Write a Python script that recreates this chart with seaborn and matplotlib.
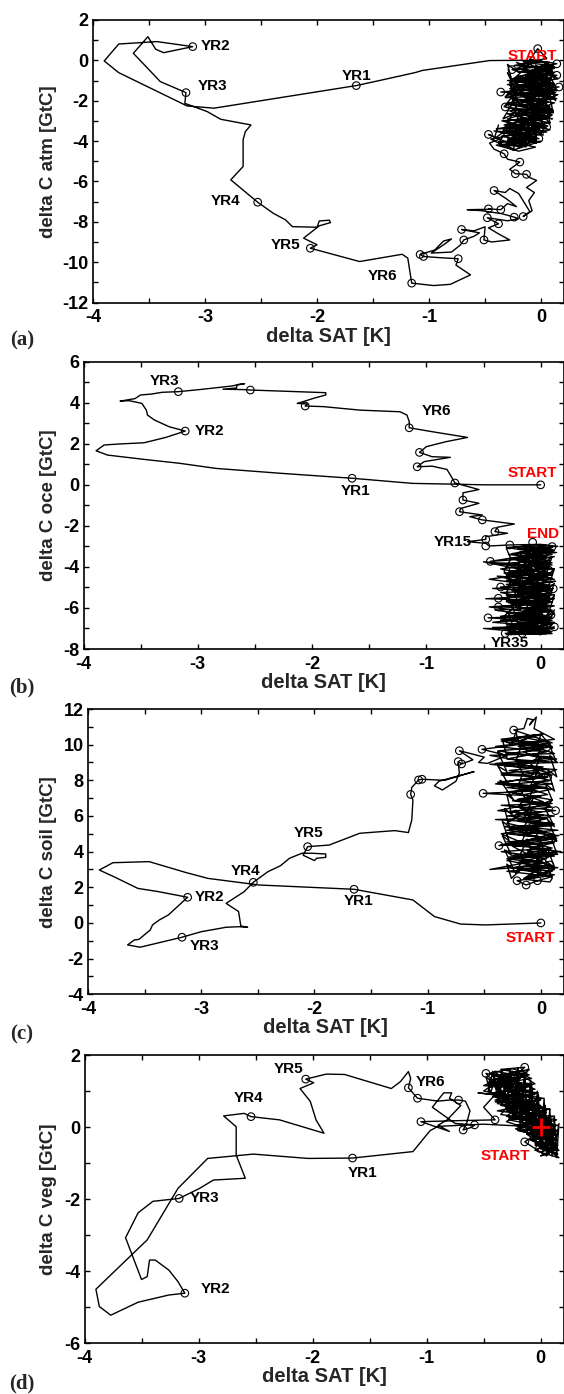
import numpy as np
import matplotlib.pyplot as plt
import seaborn as sns
from matplotlib.ticker import MultipleLocator

sns.set_theme(style='ticks')
plt.rcParams['font.family'] = ['Liberation Sans', 'DejaVu Sans']
plt.rcParams['font.weight'] = 'bold'
plt.rcParams['axes.unicode_minus'] = False

# ---------------- (a) atmosphere ----------------
atm_track = [
    (0.0, 0.0), (-0.2, 0.0), (-0.46, -0.01), (-1.06, -0.5), (-1.12, -0.6), (-1.41, -0.96), (-1.65, -1.25),
    (-2.92, -2.37), (-3.16, -2.26), (-3.77, -0.61), (-3.9, -0.03), (-3.77, 0.81), (-3.43, 0.93), (-3.11, 0.68),
    (-3.37, 0.38), (-3.44, 0.55), (-3.51, 1.17), (-3.64, 0.35), (-3.54, -0.23), (-3.4, -1.05), (-3.17, -1.6),
    (-3.18, -2.13), (-2.98, -2.54), (-2.86, -2.92), (-2.59, -3.2), (-2.64, -3.53), (-2.66, -3.94), (-2.66, -5.26),
    (-2.77, -5.92), (-2.53, -7.03), (-2.39, -7.58), (-2.28, -7.91), (-2.22, -8.24), (-2.0, -8.27), (-1.98, -7.96),
    (-1.89, -7.92), (-1.88, -8.04), (-1.98, -8.2), (-2.12, -8.81), (-2.0, -9.14), (-2.06, -9.31),
    (-1.62, -9.97), (-1.24, -9.61), (-1.19, -9.8), (-1.155, -11.04),
    (-0.96, -11.16), (-0.81, -11.1), (-0.63, -10.63), (-0.76, -10.15), (-0.74, -9.83), (-0.9, -9.78),
    (-1.05, -9.72), (-1.08, -9.62), (-0.95, -9.4), (-0.87, -8.95), (-0.8, -8.85), (-0.86, -9.1), (-0.98, -9.55),
    (-0.8, -9.5), (-0.72, -9.15), (-0.69, -8.9), (-0.6, -8.72), (-0.55, -8.55), (-0.71, -8.38), (-0.6, -8.45),
    (-0.5, -8.25), (-0.51, -8.9), (-0.44, -9.0), (-0.28, -8.9), (-0.38, -8.6), (-0.47, -8.3), (-0.38, -8.1),
    (-0.48, -7.8), (-0.3, -7.95), (-0.2, -7.85), (-0.24, -7.77), (-0.35, -7.6), (-0.53, -7.45), (-0.66, -7.4),
    (-0.45, -7.38), (-0.47, -7.36), (-0.36, -7.4), (-0.3, -7.1), (-0.22, -7.25), (-0.3, -6.9), (-0.42, -6.45),
    (-0.32, -6.55), (-0.28, -6.35), (-0.2, -6.6), (-0.15, -7.05), (-0.1, -7.5), (-0.16, -7.74), (-0.08, -7.45),
    (-0.11, -6.95), (-0.06, -6.55), (-0.13, -6.3), (-0.04, -5.95), (-0.11, -5.79), (-0.13, -5.65), (-0.23, -5.62),
    (-0.28, -5.4), (-0.19, -5.04), (-0.3, -4.9), (-0.33, -4.63), (-0.42, -4.4), (-0.46, -4.1), (-0.37, -3.9),
    (-0.47, -3.67), (-0.2, -4.3), (-0.05, -3.95), (-0.38, -4.05), (-0.02, -3.88), (-0.28, -3.55), (0.05, -3.3),
    (-0.4, -3.4), (-0.1, -3.1), (0.08, -3.45), (-0.3, -2.9), (-0.12, -2.6), (0.1, -2.9), (-0.32, -2.31),
    (-0.05, -2.5), (0.12, -2.1), (-0.25, -1.9), (-0.05, -2.2), (0.15, -1.7), (-0.36, -1.57), (0.0, -1.4),
    (0.16, -1.32), (-0.2, -1.2), (-0.24, -1.07), (0.05, -0.9), (0.14, -0.74), (-0.15, -0.6), (-0.26, -0.46),
    (0.02, -0.3), (0.14, -0.17), (-0.1, 0.05), (-0.03, 0.58), (0.05, 0.1), (-0.2, -0.2), (0.1, -0.5),
    (-0.22, -0.8), (0.08, -1.1), (-0.28, -1.4), (0.12, -1.6), (-0.18, -1.75), (0.02, -2.0), (-0.3, -2.1),
    (0.1, -2.4), (-0.22, -2.7), (0.05, -2.8), (-0.35, -3.0), (-0.1, -3.35), (0.02, -3.7), (-0.42, -3.5),
    (-0.15, -3.8), (-0.3, -4.2), (0.0, -4.0), (-0.25, -4.45), (-0.45, -3.9), (-0.1, -3.55), (-0.33, -3.2),
    (0.08, -3.1), (-0.15, -2.85), (-0.28, -2.5), (0.06, -2.3), (-0.12, -2.05), (0.14, -1.9), (-0.22, -1.6),
    (0.04, -1.25), (-0.3, -1.0), (0.1, -0.95), (-0.12, -0.7), (0.12, -0.4), (-0.24, -0.25), (0.0, -0.05),
    (0.12, -0.35), (-0.18, -0.55), (0.06, -0.8), (-0.3, -1.2), (0.14, -1.45), (-0.1, -1.55), (-0.32, -1.85),
    (0.08, -1.75), (-0.1, -2.3), (0.1, -2.6), (-0.3, -2.65), (-0.05, -3.0), (-0.2, -3.3), (0.05, -3.55),
    (-0.35, -3.75), (-0.1, -4.1), (-0.05, -3.6), (-0.25, -3.1), (0.1, -2.7), (-0.2, -2.2), (0.12, -1.3),
    (-0.15, -1.0), (0.08, -0.6), (-0.05, -0.25), (0.15, -0.9), (-0.2, -1.35), (0.05, -1.7), (-0.08, -1.3),
    (-0.02, -1.1), (-0.18, -0.95), (0.03, -0.75), (-0.12, -0.55), (0.1, -0.25), (-0.08, -0.15), (-0.22, -0.4),
    (0.0, -0.6), (-0.14, -0.85), (0.08, -1.05), (-0.26, -1.25), (-0.04, -1.45), (0.13, -1.6), (-0.15, -1.85),
    (0.06, -2.05), (-0.2, -2.25), (0.03, -2.45), (-0.14, -2.6), (0.09, -2.75), (-0.25, -2.95), (-0.02, -3.15),
    (-0.3, -3.3), (-0.06, -3.5), (-0.27, -3.65), (-0.04, -3.8), (-0.22, -4.0), (-0.36, -4.25), (-0.12, -4.2),
    (-0.28, -3.95), (-0.08, -3.75), (-0.36, -3.55), (-0.15, -3.4), (0.02, -3.2), (-0.2, -3.05), (0.06, -2.9),
    (-0.17, -2.7), (0.11, -2.5), (-0.12, -2.35), (-0.28, -2.2), (0.05, -2.15), (-0.08, -1.95), (0.1, -1.8),
    (-0.3, -1.7), (-0.06, -1.6), (0.14, -1.5), (-0.12, -1.35), (0.09, -1.2), (-0.2, -1.05), (0.02, -0.95),
    (-0.15, -0.75), (0.12, -0.6), (-0.06, -0.4), (0.08, -0.1), (-0.16, -0.05), (-0.04, -0.35), (0.1, -0.7),
    (-0.24, -0.9), (0.0, -1.2), (-0.1, -1.7), (0.08, -2.3), (-0.2, -2.55), (0.0, -2.65), (-0.1, -2.95),
    (0.06, -3.25), (-0.24, -3.45), (-0.1, -3.7), (-0.3, -3.9), (-0.15, -4.05), (-0.4, -4.2), (-0.2, -4.5),
    (-0.05, -4.3), (-0.3, -4.0), (-0.12, -3.3), (0.04, -2.6), (-0.16, -2.0), (0.12, -1.15), (-0.1, -0.8),
    (0.04, -0.45), (-0.2, -0.6),
    (-0.3, -0.2), (-0.26, -1.0), (-0.3, -0.6), (-0.22, -1.6), (-0.28, -1.2), (-0.2, -2.1), (-0.27, -1.8),
    (-0.18, -2.8), (-0.25, -2.4), (-0.16, -3.4), (-0.3, -3.0), (-0.2, -4.0), (-0.12, -3.6), (-0.14, -4.3),
    (-0.08, -3.8), (-0.12, -3.1), (-0.02, -3.5), (-0.1, -2.6), (0.0, -3.0), (-0.08, -2.2), (0.04, -2.4),
    (-0.06, -1.5), (0.06, -1.9), (-0.04, -0.9), (0.08, -1.3), (-0.02, -0.3), (0.1, -0.6), (0.04, -0.1),
    (0.12, -0.9), (0.06, -0.5), (0.14, -1.5), (0.08, -1.1), (0.13, -2.0), (0.07, -1.7), (0.11, -2.6),
    (0.04, -2.2), (0.08, -3.1), (0.0, -2.7), (0.02, -3.6), (-0.06, -3.2), (-0.04, -4.1), (-0.16, -3.9),
    (-0.22, -3.3), (-0.35, -3.6), (-0.26, -2.7), (-0.34, -2.9), (-0.24, -2.0), (-0.33, -2.3), (-0.2, -1.4),
    (-0.32, -1.8), (-0.16, -0.8), (-0.28, -1.1), (-0.12, -0.3), (-0.22, -0.1), (-0.06, -0.7), (-0.14, -0.5),
    (0.0, -1.2), (-0.1, -1.0), (0.02, -1.8), (-0.1, -1.4), (0.0, -2.3), (-0.12, -2.0), (-0.02, -2.8),
    (-0.14, -2.5), (-0.06, -3.3), (-0.18, -3.0), (-0.1, -3.9), (-0.26, -3.8), (-0.24, -4.4), (-0.38, -4.1),
    (-0.3, -3.4), (-0.42, -3.9), (-0.38, -3.2),
]
atm_years = [
    (-1.65, -1.25), (-3.11, 0.68), (-3.17, -1.6), (-2.53, -7.03), (-2.06, -9.31), (-1.155, -11.04),
    (-0.74, -9.83), (-1.05, -9.72), (-1.08, -9.62), (-0.69, -8.9), (-0.71, -8.38), (-0.51, -8.9),
    (-0.38, -8.1), (-0.48, -7.8), (-0.24, -7.77), (-0.47, -7.36), (-0.36, -7.4), (-0.42, -6.45),
    (-0.16, -7.74), (-0.13, -5.65), (-0.23, -5.62), (-0.19, -5.04), (-0.33, -4.63), (-0.47, -3.67),
    (-0.02, -3.88), (0.05, -3.3), (-0.32, -2.31), (-0.36, -1.57), (0.16, -1.32), (-0.24, -1.07),
    (0.14, -0.74), (-0.26, -0.46), (0.14, -0.17), (-0.03, 0.58),
]
atm_notes = [
    ("YR1", -1.65, -0.77), ("YR2", -2.91, 0.73), ("YR3", -2.93, -1.25), ("YR4", -2.82, -6.97),
    ("YR5", -2.28, -9.14), ("YR6", -1.42, -10.71), ("START", -0.08, 0.22),
]

# ---------------- (b) ocean ----------------
oce_track = [
    (0.0, 0.0), (-0.5, 0.0), (-0.73, 0.03), (-1.12, 0.07), (-1.65, 0.32), (-2.27, 0.56), (-2.84, 0.8),
    (-3.16, 1.05), (-3.47, 1.24), (-3.79, 1.45), (-3.89, 1.66), (-3.82, 1.94), (-3.69, 1.99), (-3.47, 2.05),
    (-3.28, 2.31), (-3.11, 2.62), (-3.25, 2.83), (-3.38, 3.16), (-3.44, 3.4), (-3.45, 3.64), (-3.49, 3.97),
    (-3.6, 4.1), (-3.68, 4.08), (-3.55, 4.2), (-3.5, 4.38), (-3.41, 4.42), (-3.31, 4.51), (-3.17, 4.54),
    (-2.97, 4.65), (-2.71, 4.81), (-2.59, 4.93), (-2.66, 4.88), (-2.66, 4.72), (-2.78, 4.66), (-2.6, 4.64),
    (-2.54, 4.62), (-1.88, 4.49), (-1.88, 4.38), (-1.99, 4.21), (-2.08, 4.05), (-2.13, 3.97), (-2.04, 3.94),
    (-2.06, 3.84), (-1.9, 3.81), (-1.58, 3.64), (-1.23, 3.56), (-1.17, 3.4), (-1.15, 3.08), (-1.15, 2.78),
    (-0.95, 2.59), (-0.64, 2.31), (-0.83, 2.1), (-1.0, 1.86), (-1.06, 1.58), (-0.95, 1.37), (-0.79, 1.34),
    (-1.02, 1.13), (-1.08, 0.88), (-0.95, 0.91), (-0.82, 0.75), (-0.79, 0.48), (-0.75, 0.09), (-0.54, -0.23),
    (-0.68, -0.39), (-0.68, -0.74), (-0.54, -0.9), (-0.7, -1.15), (-0.71, -1.31), (-0.51, -1.47),
    (-0.62, -1.55), (-0.51, -1.71), (-0.23, -1.91), (-0.38, -2.07), (-0.4, -2.28), (-0.29, -2.36),
    (-0.48, -2.53), (-0.48, -2.66), (-0.64, -2.77), (-0.48, -2.85), (-0.45, -2.98), (-0.27, -2.93),
    (0.0, -2.9), (0.15, -3.0), (-0.2, -3.1), (0.1, -3.25), (-0.44, -3.73), (-0.1, -3.6), (0.12, -3.5),
    (-0.3, -3.9), (0.05, -4.0), (-0.5, -3.75), (-0.15, -4.15), (0.1, -4.3), (-0.25, -4.5), (0.02, -4.6),
    (-0.38, -4.45), (-0.1, -4.8), (0.13, -4.7), (-0.35, -4.98), (0.0, -5.1), (0.11, -5.06), (-0.2, -5.3),
    (0.05, -5.4), (-0.48, -5.55), (-0.15, -5.6), (0.1, -5.7), (-0.37, -5.95), (-0.05, -6.0), (0.08, -6.2),
    (-0.3, -6.25), (0.0, -6.4), (-0.46, -6.48), (-0.1, -6.6), (0.12, -6.7), (-0.25, -6.85), (0.05, -7.0),
    (-0.5, -7.0), (-0.1, -7.2), (0.12, -6.92), (-0.31, -7.24), (0.05, -7.25), (-0.2, -7.05), (0.08, -6.8),
    (-0.35, -6.6), (0.1, -6.45), (-0.15, -6.3), (-0.4, -6.1), (0.06, -6.0), (-0.2, -5.8), (0.12, -5.55),
    (-0.3, -5.4), (0.0, -5.2), (-0.42, -5.05), (0.1, -4.9), (-0.18, -4.7), (0.05, -4.45), (-0.32, -4.3),
    (0.12, -4.1), (-0.1, -3.95), (-0.4, -3.85), (0.08, -3.7), (-0.2, -3.45), (0.14, -3.3), (-0.1, -3.15),
    (0.05, -2.95), (-0.3, -3.05), (0.1, -3.4), (-0.22, -3.65), (0.02, -3.85), (-0.35, -4.1), (0.1, -4.55),
    (-0.12, -4.35), (-0.45, -4.6), (0.08, -5.0), (-0.25, -5.15), (0.05, -5.35), (-0.3, -5.7), (0.12, -5.9),
    (-0.15, -6.15), (0.0, -6.3), (-0.35, -6.4), (0.1, -6.6), (-0.2, -6.75), (0.02, -6.9), (-0.42, -6.95),
    (0.1, -7.15), (-0.15, -7.3), (0.0, -7.0), (-0.28, -6.9), (0.06, -6.55), (-0.1, -6.2), (-0.45, -5.95),
    (0.08, -5.75), (-0.1, -5.5), (-0.35, -5.25), (0.1, -5.15), (-0.05, -4.85), (-0.3, -4.65), (0.1, -4.4),
    (-0.15, -4.05), (0.02, -3.75), (-0.25, -3.35), (0.1, -3.05),
    (-0.2, -3.3), (0.05, -3.45), (-0.25, -3.6), (0.1, -3.8), (-0.15, -3.9), (0.08, -4.05), (-0.28, -4.2),
    (0.02, -4.35), (-0.12, -4.55), (0.12, -4.6), (-0.25, -4.75), (0.05, -4.9), (-0.2, -5.05), (0.1, -5.25),
    (-0.15, -5.45), (0.06, -5.6), (-0.28, -5.75), (0.0, -5.85), (-0.12, -6.05), (0.1, -6.1), (-0.22, -6.35),
    (0.04, -6.5), (-0.18, -6.6), (0.12, -6.75), (-0.1, -6.95), (0.08, -7.1), (-0.25, -7.15), (0.0, -7.3),
    (-0.1, -7.1), (0.12, -7.0), (-0.3, -6.8), (-0.05, -6.7), (0.08, -6.5), (-0.25, -6.45), (0.02, -6.2),
    (-0.16, -6.0), (0.1, -5.9), (-0.3, -5.65), (-0.05, -5.5), (0.12, -5.35), (-0.22, -5.2), (0.0, -5.0),
    (-0.3, -4.85), (0.1, -4.75), (-0.1, -4.5), (0.06, -4.3), (-0.22, -4.05), (0.1, -3.9), (-0.12, -3.75),
    (0.05, -3.55), (-0.28, -3.4), (0.1, -3.15), (-0.15, -3.0), (0.12, -3.2), (-0.05, -3.45), (-0.2, -3.7),
    (0.0, -4.1), (-0.3, -4.4), (-0.05, -4.65), (0.1, -5.1), (-0.12, -5.35), (-0.35, -5.55), (0.0, -5.75),
    (0.12, -6.3), (-0.18, -6.55), (-0.42, -6.7), (-0.05, -6.85), (0.1, -7.25), (-0.3, -7.3), (-0.08, -7.0),
    (0.05, -6.4), (-0.2, -5.9), (0.08, -5.45), (-0.15, -4.95), (0.04, -4.2), (-0.18, -3.55), (0.08, -3.05),
    (0.08, -3.0), (0.02, -3.9), (0.1, -3.5), (0.04, -4.5), (0.12, -4.1), (0.06, -5.1), (0.12, -4.8),
    (0.05, -5.8), (0.12, -5.4), (0.06, -6.4), (0.12, -6.1), (0.04, -7.1), (0.1, -6.8), (0.0, -7.3),
    (-0.04, -6.5), (0.02, -6.8), (-0.06, -5.9), (0.0, -6.2), (-0.08, -5.2), (-0.02, -5.6), (-0.1, -4.6),
    (-0.04, -4.9), (-0.12, -3.9), (-0.06, -4.3), (-0.14, -3.1), (-0.08, -3.4), (-0.18, -3.3), (-0.12, -4.1),
    (-0.2, -3.8), (-0.15, -4.8), (-0.22, -4.4), (-0.16, -5.4), (-0.24, -5.0), (-0.18, -6.1), (-0.26, -5.7),
    (-0.2, -6.7), (-0.28, -6.3), (-0.22, -7.2), (-0.3, -6.9), (-0.26, -7.3), (-0.32, -6.4), (-0.24, -6.0),
    (-0.3, -5.3), (-0.26, -4.7), (-0.32, -4.2), (-0.26, -3.6), (-0.3, -3.1), (-0.1, -2.95), (0.0, -3.4),
    (-0.05, -4.0), (0.02, -4.7), (-0.04, -5.4), (0.04, -6.0), (-0.02, -6.6), (0.06, -7.2), (-0.1, -7.0),
    (-0.14, -6.3), (-0.1, -5.6), (-0.14, -4.9), (-0.08, -4.2), (-0.12, -3.5), (0.06, -3.2), (0.0, -3.2),
]
oce_years = [
    (0.0, 0.0), (-1.65, 0.32), (-3.11, 2.62), (-3.17, 4.54), (-2.54, 4.62), (-2.06, 3.84), (-1.15, 2.78),
    (-1.06, 1.58), (-1.08, 0.88), (-0.75, 0.09), (-0.68, -0.74), (-0.71, -1.31), (-0.51, -1.71),
    (-0.4, -2.28), (-0.48, -2.66), (-0.48, -2.98), (-0.27, -2.93), (-0.44, -3.73), (-0.35, -4.98),
    (0.11, -5.06), (-0.37, -5.95), (-0.46, -6.48), (0.12, -6.92), (-0.31, -7.24), (-0.16, -7.24),
    (0.04, -7.07), (0.09, -6.34), (-0.37, -5.53), (-0.24, -4.15), (-0.23, -4.64), (0.07, -4.15),
    (0.1, -3.01), (-0.07, -2.8),
]
oce_notes = [
    ("YR3", -3.29, 5.07), ("YR2", -2.9, 2.64), ("YR1", -1.62, -0.3), ("YR6", -0.91, 3.61),
    ("START", -0.07, 0.59), ("END", 0.02, -2.41), ("YR15", -0.77, -2.77), ("YR35", -0.27, -7.72),
]

# ---------------- (c) soil ----------------
soil_track = [
    (0.0, 0.0), (-0.49, -0.11), (-0.71, -0.06), (-0.94, 0.36), (-1.13, 1.29), (-1.65, 1.89), (-2.49, 2.13),
    (-2.94, 2.5), (-3.13, 2.82), (-3.46, 3.44), (-3.78, 3.38), (-3.9, 2.97), (-3.76, 2.56), (-3.56, 1.94),
    (-3.38, 1.76), (-3.12, 1.44), (-3.21, 0.92), (-3.29, 0.45), (-3.37, 0.17), (-3.43, -0.11), (-3.45, -0.39),
    (-3.55, -0.92), (-3.59, -0.95), (-3.65, -1.23), (-3.54, -1.36), (-3.17, -0.8), (-3.0, -0.49),
    (-2.78, -0.24), (-2.67, -0.21), (-2.59, -0.24), (-2.65, -0.17), (-2.67, 0.64), (-2.78, 1.1), (-2.62, 1.76),
    (-2.54, 2.28), (-2.41, 2.88), (-2.3, 3.21), (-2.22, 3.63), (-2.11, 3.91), (-2.02, 3.91), (-1.9, 3.87),
    (-1.9, 3.68), (-1.98, 3.63), (-2.0, 3.5), (-2.1, 3.8), (-2.06, 4.28), (-1.87, 4.37), (-1.6, 5.03),
    (-1.29, 5.18), (-1.17, 5.07), (-1.14, 5.78), (-1.13, 6.9), (-1.15, 7.21),
    (-1.14, 7.6), (-1.08, 8.02), (-1.05, 8.06), (-0.85, 8.0), (-0.59, 8.49), (-0.9, 7.95), (-0.94, 7.69),
    (-0.87, 7.46), (-0.8, 7.74), (-0.75, 7.95), (-0.72, 8.4), (-0.73, 9.05), (-0.7, 8.92), (-0.6, 9.15),
    (-0.72, 9.66), (-0.62, 9.5), (-0.5, 9.3), (-0.55, 9.0), (-0.47, 8.95),
    (-0.3, 9.4), (-0.52, 9.74), (-0.2, 10.0), (0.05, 9.85), (-0.35, 10.2), (-0.15, 10.4), (0.1, 10.1),
    (-0.24, 10.82), (-0.15, 10.9), (-0.12, 11.47), (-0.07, 11.4), (-0.1, 11.1), (-0.04, 11.55), (-0.06, 10.9),
    (0.12, 10.3), (-0.4, 9.9), (0.05, 9.6), (-0.3, 9.2), (0.15, 9.0), (-0.45, 8.9), (-0.1, 8.7), (0.08, 8.4),
    (-0.35, 8.3), (0.06, 8.17), (-0.2, 8.0), (0.1, 7.8), (-0.3, 7.6), (-0.05, 7.4), (-0.51, 7.27), (0.0, 7.1),
    (-0.2, 6.9), (0.1, 6.7), (-0.35, 6.6), (0.0, 6.4), (0.13, 6.3), (-0.22, 6.11), (0.05, 5.9), (-0.4, 5.8),
    (0.1, 5.6), (-0.15, 5.4), (0.15, 5.2), (-0.3, 5.0), (0.0, 4.8), (-0.37, 4.34), (0.12, 4.5), (-0.1, 4.2),
    (0.18, 4.0), (-0.25, 3.8), (0.05, 3.6), (-0.45, 3.0), (0.08, 3.25), (-0.1, 2.9), (0.12, 2.7),
    (-0.21, 2.37), (-0.13, 2.13), (-0.03, 2.37), (0.1, 2.6), (-0.3, 2.9), (0.15, 3.1), (-0.2, 3.4),
    (0.0, 3.7), (-0.35, 4.0), (0.1, 4.2), (-0.15, 4.6), (0.16, 4.9), (-0.3, 5.2), (0.05, 5.5), (-0.2, 5.7),
    (0.12, 6.0), (-0.38, 6.3), (0.02, 6.8), (-0.15, 7.2), (0.1, 7.5), (-0.4, 7.8), (-0.05, 8.2), (0.14, 8.6),
    (-0.3, 8.8), (0.0, 9.2), (-0.15, 9.6), (0.1, 9.9), (-0.35, 10.3), (0.02, 10.6), (-0.2, 10.2), (0.12, 9.5),
    (-0.45, 9.4), (-0.1, 9.0), (0.05, 8.0), (-0.25, 7.3), (0.1, 6.9), (-0.1, 6.4), (-0.3, 5.6), (0.1, 5.0),
    (-0.2, 4.5), (0.05, 4.0), (-0.3, 3.5), (0.12, 3.0), (-0.15, 2.5), (0.05, 3.3), (-0.25, 4.3), (0.14, 4.6),
    (-0.05, 5.3), (-0.35, 5.0), (0.1, 3.8), (-0.1, 3.2), (0.0, 2.8),
    (-0.1, 2.6), (0.1, 2.9), (-0.25, 3.1), (0.02, 3.35), (-0.3, 3.6), (0.12, 3.75), (-0.12, 3.95),
    (0.08, 4.15), (-0.35, 4.4), (-0.05, 4.55), (0.14, 4.75), (-0.2, 4.95), (0.04, 5.1), (-0.28, 5.3),
    (0.1, 5.45), (-0.12, 5.65), (0.06, 5.85), (-0.3, 6.0), (0.0, 6.2), (-0.18, 6.45), (0.08, 6.6),
    (-0.25, 6.85), (-0.02, 7.05), (-0.3, 7.35), (0.05, 7.6), (-0.38, 7.9), (-0.05, 8.1), (0.1, 8.3),
    (-0.28, 8.55), (0.02, 8.75), (-0.4, 8.95), (-0.08, 9.1), (0.1, 9.3), (-0.3, 9.5), (0.0, 9.7),
    (-0.2, 9.9), (0.08, 10.05), (-0.3, 10.3), (-0.05, 10.55), (-0.18, 10.2), (0.06, 9.9), (-0.38, 9.65),
    (-0.1, 9.4), (0.14, 9.2), (-0.2, 8.95), (0.05, 8.6), (-0.35, 8.4), (-0.1, 8.25), (0.08, 8.0),
    (-0.3, 7.75), (-0.08, 7.5), (0.06, 7.2), (-0.2, 6.95), (0.1, 6.5), (-0.28, 6.25), (0.02, 6.05),
    (-0.2, 5.8), (0.12, 5.55), (-0.32, 5.4), (0.0, 5.2), (-0.15, 5.0), (0.1, 4.7), (-0.3, 4.55),
    (0.02, 4.35), (-0.12, 4.05), (0.15, 3.85), (-0.28, 3.7), (-0.02, 3.45), (0.1, 3.2), (-0.2, 3.0),
    (0.05, 2.75), (-0.15, 2.45), (0.08, 2.3),
    (0.1, 2.5), (0.04, 3.5), (0.12, 3.1), (0.06, 4.2), (0.14, 3.9), (0.08, 5.0), (0.14, 4.6), (0.06, 5.8),
    (0.12, 5.4), (0.04, 6.4), (0.1, 6.9), (0.04, 7.8), (0.12, 7.4), (0.06, 8.6), (0.14, 8.2), (0.08, 9.4),
    (0.14, 9.0), (0.06, 10.2), (0.1, 9.8), (0.0, 10.6), (-0.04, 9.7), (0.02, 10.0), (-0.06, 9.0), (0.0, 9.3),
    (-0.08, 8.3), (-0.02, 8.6), (-0.1, 7.6), (-0.04, 7.9), (-0.12, 6.8), (-0.06, 7.1), (-0.14, 6.0),
    (-0.08, 6.3), (-0.16, 5.2), (-0.1, 5.5), (-0.18, 4.4), (-0.12, 4.7), (-0.2, 3.6), (-0.14, 3.9),
    (-0.22, 2.8), (-0.16, 3.1), (-0.26, 2.5), (-0.3, 3.3), (-0.24, 3.0), (-0.32, 4.1), (-0.26, 3.8),
    (-0.34, 4.9), (-0.28, 4.6), (-0.34, 5.7), (-0.28, 5.4), (-0.32, 6.4), (-0.26, 6.1), (-0.3, 7.2),
    (-0.24, 6.9), (-0.36, 8.0), (-0.28, 7.7), (-0.38, 8.8), (-0.3, 8.5), (-0.38, 9.6), (-0.3, 9.3),
    (-0.34, 10.3), (-0.26, 10.0), (-0.22, 10.7), (-0.18, 9.8), (-0.22, 9.1), (-0.16, 8.4), (-0.2, 7.7),
    (-0.14, 7.0), (-0.2, 6.5), (0.0, 5.9), (-0.04, 5.0), (0.02, 4.3), (-0.04, 3.4), (0.02, 2.6),
]
soil_years = [
    (0.0, 0.0), (-1.65, 1.89), (-3.12, 1.44), (-3.17, -0.8), (-2.54, 2.28), (-2.06, 4.28), (-1.15, 7.21),
    (-1.08, 8.02), (-1.05, 8.06), (-0.73, 9.05), (-0.7, 8.92), (-0.72, 9.66), (-0.52, 9.74), (-0.24, 10.82),
    (0.05, 9.85), (0.06, 8.17), (-0.51, 7.27), (-0.22, 6.11), (0.13, 6.3), (-0.37, 4.34), (-0.13, 2.13),
    (-0.03, 2.37), (-0.21, 2.37), (0.08, 3.25),
]
soil_notes = [
    ("YR5", -2.05, 5.07), ("YR4", -2.61, 2.92), ("YR2", -2.93, 1.44), ("YR1", -1.61, 1.25),
    ("YR3", -2.97, -1.29), ("START", -0.09, -0.82),
]

# ---------------- (d) vegetation ----------------
veg_track = [
    (0.0, 0.0), (-0.5, 0.08), (-0.9, 0.02), (-0.97, -0.1), (-1.12, -0.68), (-1.65, -0.86), (-2.04, -0.87),
    (-2.52, -0.75), (-2.92, -0.87), (-3.18, -1.7), (-3.45, -3.13), (-3.9, -4.5), (-3.87, -4.98), (-3.77, -5.22),
    (-3.53, -4.86), (-3.26, -4.66), (-3.12, -4.61), (-3.18, -4.29), (-3.26, -3.97), (-3.38, -3.69),
    (-3.43, -3.69), (-3.45, -4.15), (-3.5, -4.23), (-3.64, -3.07), (-3.53, -2.38), (-3.4, -2.06), (-3.17, -1.98),
    (-2.99, -1.7), (-2.87, -1.47), (-2.59, -1.42), (-2.67, -0.78), (-2.67, 0.01), (-2.78, 0.31), (-2.6, 0.38),
    (-2.54, 0.29), (-2.29, 0.2), (-1.9, -0.17), (-1.97, 0.2), (-2.02, 0.71), (-2.11, 1.07), (-1.99, 1.23),
    (-2.06, 1.33), (-1.88, 1.47), (-1.72, 1.46), (-1.31, 1.07), (-1.23, 1.26), (-1.16, 1.54), (-1.14, 1.35),
    (-1.16, 1.09),
    (-1.08, 0.8), (-0.9, 0.72), (-0.8, 0.75), (-0.72, 0.75), (-0.66, 0.72), (-0.62, 0.45), (-0.65, 0.1),
    (-0.68, -0.08), (-0.6, 0.0), (-0.58, 0.06), (-0.75, 0.1), (-0.95, 0.55), (-0.85, 0.95), (-0.78, 0.95),
    (-0.8, 0.8), (-0.7, 0.6), (-0.82, 0.2), (-0.9, 0.05), (-0.8, -0.12), (-1.05, 0.15), (-0.7, 0.18),
    (-0.4, 0.2), (-0.5, 0.55), (-0.4, 0.9), (-0.55, 0.95), (-0.3, 0.85),
    (-0.48, 1.49), (-0.2, 1.3), (-0.45, 1.1), (-0.1, 1.45), (-0.35, 1.6), (-0.14, 1.66), (-0.3, 1.2),
    (-0.05, 0.9), (-0.42, 0.85), (-0.15, 0.6), (-0.38, 0.45), (0.0, 0.3), (-0.28, 0.2), (0.05, 0.0),
    (-0.2, -0.1), (0.12, -0.3), (-0.1, -0.35), (0.1, -0.6), (-0.01, -0.59), (0.15, -0.75), (-0.05, -0.45),
    (0.14, -0.2), (-0.22, 0.05), (0.08, 0.25), (-0.3, 0.5), (-0.05, 0.65), (-0.4, 0.75), (-0.1, 1.0),
    (-0.45, 1.3), (-0.2, 1.5), (-0.05, 1.2), (-0.35, 0.95), (0.02, 0.55), (-0.25, 0.35), (0.1, 0.1),
    (-0.14, -0.41), (0.05, -0.8), (0.15, -0.5), (-0.08, -0.2), (0.1, 0.05), (-0.3, 0.3), (-0.1, 0.75),
    (-0.5, 1.0), (-0.25, 1.55), (-0.08, 1.35), (-0.38, 1.2), (-0.15, 0.85), (-0.32, 0.6), (0.05, 0.4),
    (-0.18, 0.15), (0.15, -0.1), (-0.05, -0.3), (0.12, -0.55), (0.0, -0.7), (0.16, -0.85), (-0.12, -0.2),
    (0.08, 0.15), (-0.35, 0.35), (-0.2, 0.9), (-0.42, 1.4), (-0.1, 1.6), (-0.3, 1.0), (0.0, 0.75),
    (-0.28, 0.55), (-0.02, 0.2), (-0.22, -0.05), (0.1, -0.4), (-0.05, -0.65), (0.12, -0.35), (-0.15, 0.1),
    (0.05, 0.5), (-0.38, 0.65), (-0.12, 1.15), (-0.46, 1.25), (-0.25, 0.75), (-0.05, 0.45), (0.1, -0.15),
    (-0.1, 0.0), (0.14, 0.2), (-0.2, 0.4), (0.02, -0.2),
    (-0.4, 1.55), (-0.15, 1.4), (-0.38, 1.3), (-0.08, 1.2), (-0.32, 1.05), (-0.02, 0.95), (-0.35, 0.8),
    (-0.05, 0.7), (-0.3, 0.55), (0.05, 0.45), (-0.25, 0.3), (0.08, 0.2), (-0.18, 0.05), (0.12, -0.05),
    (-0.12, -0.2), (0.14, -0.35), (-0.05, -0.5), (0.12, -0.65), (0.0, -0.8), (0.15, -0.6), (-0.08, -0.35),
    (0.1, -0.2), (-0.2, -0.05), (0.06, 0.1), (-0.28, 0.25), (0.02, 0.35), (-0.3, 0.45), (0.0, 0.6),
    (-0.4, 0.7), (-0.1, 0.85), (-0.42, 0.95), (-0.12, 1.1), (-0.45, 1.2), (-0.2, 1.35), (-0.44, 1.5),
    (-0.25, 1.62), (-0.12, 1.5), (-0.35, 1.4), (-0.05, 1.05), (-0.25, 0.95), (0.02, 0.8), (-0.2, 0.65),
    (0.08, 0.5), (-0.15, 0.35), (0.12, 0.3), (-0.1, 0.15), (0.15, 0.05), (-0.05, -0.1), (0.13, -0.45),
    (0.02, -0.3), (0.16, -0.65), (0.05, -0.55), (-0.1, -0.05), (-0.3, 0.15), (-0.15, 0.5), (-0.35, 0.6),
    (-0.25, 1.1), (-0.5, 1.15), (-0.3, 1.45), (-0.1, 0.4),
    (-0.46, 1.0), (-0.42, 1.55), (-0.38, 0.85), (-0.34, 1.6), (-0.3, 0.5), (-0.27, 1.6), (-0.24, 0.3),
    (-0.2, 1.65), (-0.18, 0.1), (-0.14, 1.5), (-0.12, -0.2), (-0.09, 1.3), (-0.06, -0.4), (-0.03, 1.0),
    (0.0, -0.6), (0.03, 0.8), (0.05, -0.7), (0.08, 0.5), (0.1, -0.8), (0.12, 0.3), (0.14, -0.85),
    (0.16, 0.1), (0.12, -0.6), (0.09, 0.2), (0.06, -0.75), (0.04, 0.6), (0.0, -0.5), (-0.02, 0.9),
    (-0.06, -0.3), (-0.08, 1.2), (-0.12, 0.0), (-0.14, 1.4), (-0.17, 0.2), (-0.2, 1.55), (-0.23, 0.4),
    (-0.26, 1.5), (-0.3, 0.55), (-0.33, 1.45), (-0.37, 0.7), (-0.4, 1.3), (-0.44, 0.95), (-0.48, 1.4),
    (0.0, 0.0),
]
veg_years = [
    (-1.65, -0.86), (-3.12, -4.61), (-3.17, -1.98), (-2.54, 0.29), (-2.06, 1.33), (-1.16, 1.09),
    (-1.08, 0.8), (-1.05, 0.15), (-0.72, 0.75), (-0.68, -0.08), (-0.58, 0.06), (-0.4, 0.2),
    (-0.48, 1.49), (-0.14, 1.66), (-0.01, -0.59), (-0.14, -0.41),
]
veg_notes = [
    ("YR5", -2.21, 1.61), ("YR4", -2.56, 0.8), ("YR6", -0.97, 1.26), ("YR1", -1.56, -1.27),
    ("YR3", -2.95, -1.98), ("YR2", -2.85, -4.5), ("START", -0.31, -0.8),
]

W, H = 564, 1394
fig = plt.figure(figsize=(W / 100, H / 100), dpi=100)

panels = [
    (atm_track, atm_years, atm_notes, (-12, 2), 'delta C atm [GtC]', '(a)', (93, 20, 302.5), 340),
    (oce_track, oce_years, oce_notes, (-8, 6), 'delta C oce [GtC]', '(b)', (83.5, 361.7, 649), 687),
    (soil_track, soil_years, soil_notes, (-4, 12), 'delta C soil [GtC]', '(c)', (88, 709, 994.3), 1034),
    (veg_track, veg_years, veg_notes, (-6, 2), 'delta C veg [GtC]', '(d)', (84.5, 1055, 1343.3), 1383),
]

for track, years, notes, ylim, ylabel, letter, (l, t, b), ly in panels:
    r = 563.5
    ax = fig.add_axes([l / W, 1 - b / H, (r - l) / W, (b - t) / H])
    xs, ys = np.array(track).T
    sns.lineplot(x=xs, y=ys, sort=False, estimator=None, color='black', linewidth=1.0, ax=ax)
    cx, cy = np.array(years).T
    sns.scatterplot(x=cx, y=cy, marker='o', s=30, facecolor='none', edgecolor='black',
                    linewidth=0.8, ax=ax, zorder=3)
    if letter == '(d)':
        sns.scatterplot(x=[0.0], y=[0.0], marker='+', s=180, color='red', linewidth=2, ax=ax, zorder=4)

    for txt, tx, ty in notes:
        col = 'red' if txt in ('START', 'END') else 'black'
        ax.text(tx, ty, txt, color=col, fontsize=11, fontweight='bold',
                ha='center', va='center', zorder=5)

    ax.set_xlim(-4, 0.2)
    ax.set_ylim(*ylim)
    ax.xaxis.set_major_locator(MultipleLocator(1))
    ax.xaxis.set_minor_locator(MultipleLocator(0.5))
    ax.yaxis.set_major_locator(MultipleLocator(2))
    ax.yaxis.set_minor_locator(MultipleLocator(1))
    ax.tick_params(which='both', direction='in', top=True, right=True, length=3.5, width=1.0,
                   colors='black', labelsize=13)
    ax.tick_params(axis='x', pad=5)
    ax.tick_params(axis='y', pad=3)
    for s in ax.spines.values():
        s.set_color('black')
        s.set_linewidth(1.2)

    ax.set_xlabel('delta SAT [K]', fontsize=14.5, fontweight='bold')
    ax.set_ylabel(ylabel, fontsize=13.5, fontweight='bold')
    ax.xaxis.set_label_coords(0.5, -24 / (b - t))
    ax.yaxis.set_label_coords(-(l - 57) / (r - l), 0.5)

    fig.text(22 / W, 1 - ly / H, letter, fontsize=15, fontweight='bold',
             family='Liberation Serif', ha='center', va='center')

fig.savefig('out.png', dpi=100)
